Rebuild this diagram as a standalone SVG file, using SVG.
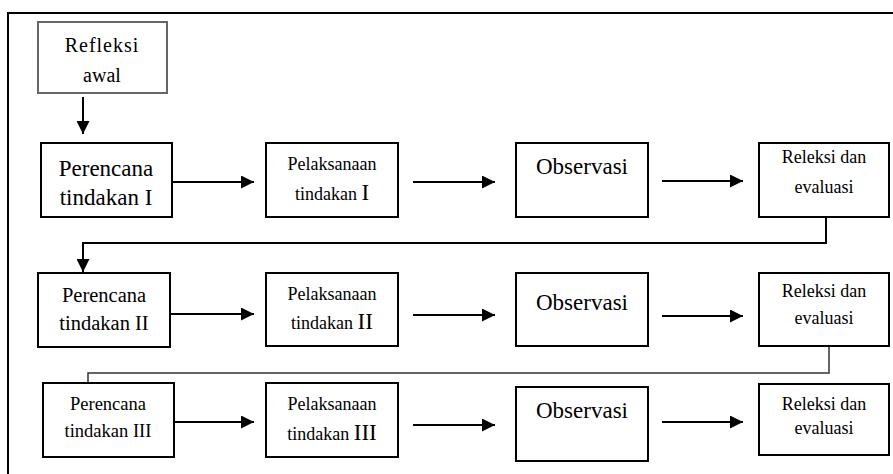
<svg xmlns="http://www.w3.org/2000/svg" width="893" height="474" viewBox="0 0 893 474">
<style>
.box{fill:#fff;stroke:#000;stroke-width:2}
.box0{fill:#fff;stroke:#666;stroke-width:2}
.t{font-family:'Liberation Serif','Times New Roman',Times,'DejaVu Serif',serif;fill:#000;text-anchor:middle}
.c{fill:none;stroke:#000;stroke-width:2}
.c2{fill:none;stroke:#333;stroke-width:1.5}
</style>
<defs>
<marker id="ah" viewBox="0 0 10 10" refX="10" refY="5" markerWidth="6.5" markerHeight="6.5" markerUnits="strokeWidth" orient="auto">
<path d="M0,0 L10,5 L0,10 Z" fill="#000"/>
</marker>
</defs>
<rect x="8" y="13" width="900" height="480" fill="#fff" stroke="#000" stroke-width="2"/>

<g id="connectors">
<line class="c" x1="83" y1="97" x2="83" y2="134" marker-end="url(#ah)"/>
<line class="c" x1="172" y1="182" x2="254" y2="182" marker-end="url(#ah)"/>
<line class="c" x1="413" y1="182" x2="495" y2="182" marker-end="url(#ah)"/>
<line class="c" x1="662" y1="181" x2="743" y2="181" marker-end="url(#ah)"/>
<path class="c" d="M826,217 V243 H83 V272" marker-end="url(#ah)"/>
<line class="c" x1="170" y1="314" x2="254" y2="314" marker-end="url(#ah)"/>
<line class="c" x1="413" y1="315" x2="495" y2="315" marker-end="url(#ah)"/>
<line class="c" x1="662" y1="316" x2="743" y2="316" marker-end="url(#ah)"/>
<path class="c2" d="M829,346 V373 H88 V383"/>
<line class="c" x1="174" y1="422" x2="254" y2="422" marker-end="url(#ah)"/>
<line class="c" x1="413" y1="425" x2="495" y2="425" marker-end="url(#ah)"/>
<line class="c" x1="662" y1="422" x2="743" y2="422" marker-end="url(#ah)"/>
</g>

<g id="refleksi-awal">
<rect class="box0" x="38" y="22" width="129" height="71"/>
<text class="t" x="102" y="52" font-size="20" letter-spacing="1">Refleksi</text>
<text class="t" x="102" y="82" font-size="20">awal</text>
</g>

<g id="perencana-1">
<rect class="box" x="41" y="143" width="131" height="74"/>
<text class="t" x="106" y="176" font-size="23">Perencana</text>
<text class="t" x="106" y="205" font-size="23">tindakan I</text>
</g>
<g id="pelaksanaan-1">
<rect class="box" x="266" y="143" width="132" height="74"/>
<text class="t" x="332" y="170" font-size="18">Pelaksanaan</text>
<text class="t" x="332" y="200" font-size="18">tindakan <tspan font-size="23">I</tspan></text>
</g>
<g id="observasi-1">
<rect class="box" x="516" y="143" width="132" height="74"/>
<text class="t" x="582" y="174" font-size="23">Observasi</text>
</g>
<g id="releksi-1">
<rect class="box" x="759" y="143" width="130" height="74"/>
<text class="t" x="824" y="163" font-size="18">Releksi dan</text>
<text class="t" x="824" y="193" font-size="18">evaluasi</text>
</g>

<g id="perencana-2">
<rect class="box" x="38" y="273" width="132" height="74"/>
<text class="t" x="104" y="302" font-size="20.5">Perencana</text>
<text class="t" x="104" y="330" font-size="20.5">tindakan II</text>
</g>
<g id="pelaksanaan-2">
<rect class="box" x="266" y="273" width="132" height="73"/>
<text class="t" x="332" y="300" font-size="18">Pelaksanaan</text>
<text class="t" x="332" y="329" font-size="18">tindakan <tspan font-size="23">II</tspan></text>
</g>
<g id="observasi-2">
<rect class="box" x="516" y="273" width="132" height="73"/>
<text class="t" x="582" y="310" font-size="23">Observasi</text>
</g>
<g id="releksi-2">
<rect class="box" x="759" y="273" width="130" height="73"/>
<text class="t" x="824" y="297" font-size="18">Releksi dan</text>
<text class="t" x="824" y="324" font-size="18">evaluasi</text>
</g>

<g id="perencana-3">
<rect class="box" x="43" y="383" width="131" height="74"/>
<text class="t" x="108" y="410" font-size="18.5">Perencana</text>
<text class="t" x="108" y="437" font-size="18.5">tindakan III</text>
</g>
<g id="pelaksanaan-3">
<rect class="box" x="266" y="383" width="132" height="74"/>
<text class="t" x="332" y="410" font-size="18">Pelaksanaan</text>
<text class="t" x="332" y="440" font-size="18">tindakan <tspan font-size="23">III</tspan></text>
</g>
<g id="observasi-3">
<rect class="box" x="516" y="387" width="132" height="74"/>
<text class="t" x="582" y="418" font-size="23">Observasi</text>
</g>
<g id="releksi-3">
<rect class="box" x="759" y="384" width="130" height="71"/>
<text class="t" x="824" y="410" font-size="18">Releksi dan</text>
<text class="t" x="824" y="434" font-size="18">evaluasi</text>
</g>
</svg>
